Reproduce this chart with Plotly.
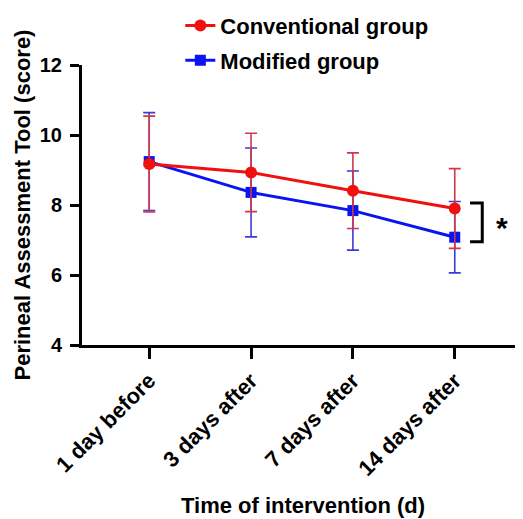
import plotly.graph_objects as go

categories = ["1 day before", "3 days after", "7 days after", "14 days after"]
conventional_mean = [9.17, 8.93, 8.41, 7.90]
conventional_sd = [1.37, 1.12, 1.08, 1.14]
modified_mean = [9.24, 8.36, 7.84, 7.08]
modified_sd = [1.40, 1.27, 1.13, 1.02]
y_ticks = [4, 6, 8, 10, 12]

FONT = "Liberation Sans, Arial, sans-serif"
xs = list(range(len(categories)))

fig = go.Figure()
fig.add_trace(go.Scatter(
    x=xs, y=modified_mean, name="<b>Modified group</b>", legendgroup="m", legendrank=2,
    mode="lines+markers",
    line=dict(color="#0A14F0", width=3),
    marker=dict(symbol="square", size=11, color="#0A14F0"),
    error_y=dict(type="data", array=modified_sd, visible=True, color="#3C3CD0", thickness=1.6, width=6),
))
fig.add_trace(go.Scatter(
    x=xs, y=conventional_mean, name="<b>Conventional group</b>", legendgroup="c", legendrank=1,
    mode="lines+markers",
    line=dict(color="#F01010", width=3),
    marker=dict(symbol="circle", size=12, color="#F01010"),
    error_y=dict(type="data", array=conventional_sd, visible=True, color="#D03848", thickness=1.6, width=6),
))

fig.add_shape(type="path", xref="x", yref="y",
              path="M 3.15,8.06 L 3.27,8.06 L 3.27,6.95 L 3.15,6.95",
              line=dict(color="black", width=3))
fig.add_annotation(x=3.46, y=7.35, xref="x", yref="y", text="<b>*</b>", showarrow=False,
                   font=dict(size=30, color="black", family=FONT))

fig.add_annotation(x=0.5, xref="paper", y=-0.572, yref="paper", yanchor="middle",
                   text="<b>Time of intervention (d)</b>",
                   showarrow=False, font=dict(size=22, color="black", family=FONT))
fig.add_annotation(x=-0.135, xref="paper", xanchor="center", y=0.5, yref="paper", yanchor="middle",
                   text="<b>Perineal Assessment Tool (score)</b>",
                   textangle=-90, showarrow=False, font=dict(size=22, color="black", family=FONT))

fig.update_xaxes(
    range=[-0.66, 3.67], tickmode="array", tickvals=xs,
    ticktext=["<b>%s</b>" % c for c in categories], tickangle=-45,
    showline=True, linecolor="black", linewidth=3,
    ticks="outside", ticklen=11, tickwidth=3, tickcolor="black",
    tickfont=dict(size=22, color="black", family=FONT),
    showgrid=False, zeroline=False, automargin=False,
)
fig.update_yaxes(
    range=[4, 12], tickmode="array", tickvals=y_ticks,
    ticktext=["<b>%d</b>" % v for v in y_ticks],
    showline=True, linecolor="black", linewidth=3,
    ticks="outside", ticklen=9, tickwidth=3, tickcolor="black",
    tickfont=dict(size=20, color="black", family=FONT), ticklabelstandoff=4,
    showgrid=False, zeroline=False, automargin=False,
)
fig.update_layout(
    width=515, height=511,
    margin=dict(l=74, r=0, t=57, b=174, autoexpand=False),
    plot_bgcolor="white", paper_bgcolor="white",
    showlegend=True,
    legend=dict(x=0.223, xanchor="left", y=1.215, yanchor="top", tracegroupgap=3,
                font=dict(size=22, color="black", family=FONT), bgcolor="rgba(0,0,0,0)"),
)
fig.write_html("out.html")
